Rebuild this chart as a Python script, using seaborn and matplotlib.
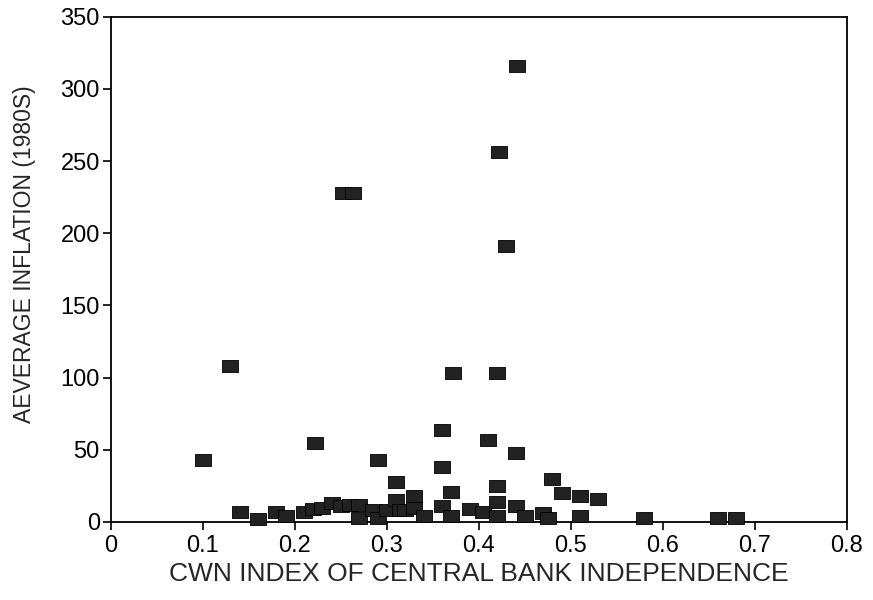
import matplotlib
matplotlib.use("Agg")
import matplotlib.pyplot as plt
import seaborn as sns
import pandas as pd

# Data
cwn_index = [0.10, 0.13, 0.14, 0.16, 0.18, 0.19, 0.21, 0.22, 0.222, 0.23,
             0.24, 0.25, 0.252, 0.263, 0.26, 0.27, 0.27, 0.285, 0.29, 0.29,
             0.30, 0.31, 0.31, 0.314, 0.32, 0.33, 0.33, 0.34, 0.36, 0.36,
             0.36, 0.37, 0.37, 0.372, 0.39, 0.405, 0.41, 0.42, 0.42, 0.42,
             0.42, 0.422, 0.43, 0.44, 0.44, 0.442, 0.45, 0.47, 0.475, 0.48,
             0.49, 0.51, 0.51, 0.53, 0.58, 0.66, 0.68]
inflation = [43, 108, 7, 2, 7, 4, 7, 9, 55, 10,
             13, 11, 228, 228, 12, 12, 3, 8, 3, 43,
             8, 15, 28, 8, 8, 10, 18, 4, 11, 38,
             64, 4, 21, 103, 9, 7, 57, 14, 4, 25,
             103, 256, 191, 11, 48, 316, 4, 6, 3, 30,
             20, 4, 18, 16, 3, 3, 2.5]

x_ticks = [0, 0.1, 0.2, 0.3, 0.4, 0.5, 0.6, 0.7, 0.8]
x_tick_labels = ["0", "0.1", "0.2", "0.3", "0.4", "0.5", "0.6", "0.7", "0.8"]
y_ticks = [0, 50, 100, 150, 200, 250, 300, 350]

df = pd.DataFrame({"cwn": cwn_index, "infl": inflation})

sns.set_style("ticks")
plt.rcParams["font.family"] = ["Liberation Sans", "DejaVu Sans"]

fig = plt.figure(figsize=(8.73, 6.0), dpi=100)
ax = fig.add_axes([0.127, 0.13, 0.843, 0.842])

rect = [(-1.0, -0.72), (1.0, -0.72), (1.0, 0.72), (-1.0, 0.72), (-1.0, -0.72)]
sns.scatterplot(data=df, x="cwn", y="infl", marker=rect, s=140,
                color="#222222", edgecolor="black", linewidth=0.6, ax=ax,
                zorder=3, clip_on=False)

ax.set_xlim(0, 0.8)
ax.set_ylim(0, 350)
ax.set_xticks(x_ticks)
ax.set_xticklabels(x_tick_labels)
ax.set_yticks(y_ticks)
ax.tick_params(axis="both", direction="out", length=6, width=1.2,
               labelsize=17, colors="black", pad=2)
ax.tick_params(axis="x", pad=3)
for sp in ax.spines.values():
    sp.set_visible(True)
    sp.set_linewidth(1.3)
    sp.set_color("black")

ax.set_xlabel("CWN INDEX OF CENTRAL BANK INDEPENDENCE", fontsize=19, labelpad=4)
ax.set_ylabel("AEVERAGE INFLATION (1980S)", fontsize=16.5)
ax.yaxis.set_label_coords(-0.102, 0.53)

fig.savefig("out.png", dpi=100, facecolor="white")
